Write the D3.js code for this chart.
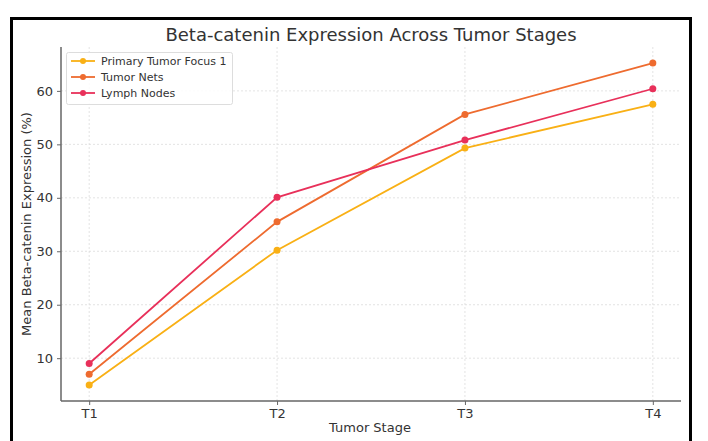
<!DOCTYPE html>
<html><head><meta charset="utf-8">
<script src="https://cdn.jsdelivr.net/npm/d3@7"></script>
<style>body{margin:0;background:#fff}svg{display:block}text{font-family:"DejaVu Sans",sans-serif}</style>
</head><body>
<svg id="c" width="708" height="441"></svg>
<script>
const stages = ["T1","T2","T3","T4"];
const seriesNames = ["Primary Tumor Focus 1","Tumor Nets","Lymph Nodes"];
const primaryFocus = [5.0, 30.2, 49.3, 57.5];
const tumorNets = [7.0, 35.5, 55.6, 65.2];
const lymphNodes = [9.0, 40.1, 50.8, 60.4];
const yTicks = [10,20,30,40,50,60];
const colors = ["#F9B015","#EE6B2F","#E8305A"];

const series = [primaryFocus, tumorNets, lymphNodes].map((v,i)=>({name:seriesNames[i], values:v, color:colors[i]}));

const svg = d3.select("#c");
// frame
svg.append("path").attr("d","M11.5,445 V18.5 H690.5 V445").attr("fill","none").attr("stroke","#000").attr("stroke-width",3);

const L=61, R=681, T=47, B=401;
const x = d3.scalePoint().domain(stages).range([L,R]).padding(0.15);
const all = series.flatMap(s=>s.values);
const mn=d3.min(all), mx=d3.max(all), m=(mx-mn)*0.05;
const y = d3.scaleLinear().domain([mn-m, mx+m]).range([B,T]);

const g = svg.append("g");
// grid
g.selectAll(".gy").data(yTicks).join("line").attr("x1",L).attr("x2",R).attr("y1",d=>y(d)).attr("y2",d=>y(d))
 .attr("stroke","#dcdcdc").attr("stroke-width",0.8).attr("stroke-dasharray","2,2");
g.selectAll(".gx").data(stages).join("line").attr("x1",d=>x(d)).attr("x2",d=>x(d)).attr("y1",T).attr("y2",B)
 .attr("stroke","#dcdcdc").attr("stroke-width",0.8).attr("stroke-dasharray","2,2");

// axes
const xa = svg.append("g").attr("transform",`translate(0,${B})`).call(d3.axisBottom(x).tickSize(4).tickPadding(4));
const ya = svg.append("g").attr("transform",`translate(${L},0)`).call(d3.axisLeft(y).tickValues(yTicks).tickSize(4).tickPadding(4));
[xa,ya].forEach(a=>{a.select(".domain").attr("stroke","#666").attr("stroke-width",1.5);
 a.selectAll(".tick line").attr("stroke","#666");
 a.selectAll("text").attr("fill","#333").style("font-size","13px").style("font-family","DejaVu Sans");});
xa.select(".domain").attr("d",`M${L},0H${R}`);
ya.select(".domain").attr("d",`M0,${B}V${T}`);

// lines
const line = d3.line().x((d,i)=>x(stages[i])).y(d=>y(d));
series.forEach(s=>{
  svg.append("path").attr("d",line(s.values)).attr("fill","none").attr("stroke",s.color).attr("stroke-width",1.8);
  svg.selectAll(null).data(s.values).join("circle").attr("cx",(d,i)=>x(stages[i])).attr("cy",d=>y(d)).attr("r",3.5).attr("fill",s.color);
});

// title & labels
svg.append("text").attr("x",371).attr("y",41).attr("text-anchor","middle").attr("fill","#333").style("font-size","18px").text("Beta-catenin Expression Across Tumor Stages");
svg.append("text").attr("x",370).attr("y",432).attr("text-anchor","middle").attr("fill","#333").style("font-size","13px").text("Tumor Stage");
svg.append("text").attr("transform",`translate(31,${(T+B)/2}) rotate(-90)`).attr("text-anchor","middle").attr("fill","#333").style("font-size","13px").text("Mean Beta-catenin Expression (%)");

// legend
const lg = svg.append("g");
lg.append("rect").attr("x",66.5).attr("y",52.5).attr("width",166).attr("height",52).attr("rx",2).attr("fill","#fff").attr("fill-opacity",0.85).attr("stroke","#ddd");
series.forEach((s,i)=>{
  const yy = 61+i*16;
  lg.append("line").attr("x1",71).attr("x2",95).attr("y1",yy).attr("y2",yy).attr("stroke",s.color).attr("stroke-width",1.8);
  lg.append("circle").attr("cx",83).attr("cy",yy).attr("r",3).attr("fill",s.color);
  lg.append("text").attr("x",101).attr("y",yy+4).attr("fill","#333").style("font-size","11px").text(s.name);
});
</script>
</body></html>
